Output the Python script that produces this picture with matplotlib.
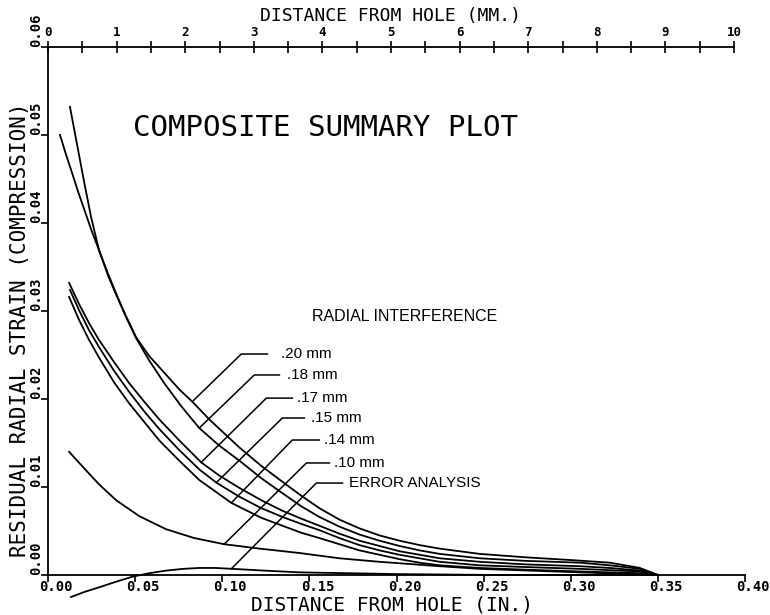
import numpy as np
import matplotlib
matplotlib.use("Agg")
import matplotlib.pyplot as plt
from matplotlib.transforms import ScaledTranslation

# ---------------- data (inches from hole, residual radial strain) ----------------
x_20 = [0.0069, 0.0103, 0.0138, 0.0172, 0.0207, 0.0247, 0.0293, 0.0345, 0.0397, 0.0448,
        0.0506, 0.0580, 0.0667, 0.0753, 0.0828, 0.0925, 0.1011, 0.1098, 0.1224, 0.1345,
        0.1454, 0.1557, 0.1672, 0.1787, 0.1902, 0.2017, 0.2132, 0.2247, 0.2477, 0.2747,
        0.3000, 0.3224, 0.3397, 0.3500]
y_20 = [0.0500, 0.0478, 0.0457, 0.0436, 0.0416, 0.0393, 0.0369, 0.0342, 0.0317, 0.0294,
        0.0270, 0.0249, 0.0230, 0.0211, 0.0197, 0.0177, 0.0161, 0.0145, 0.0124, 0.0106,
        0.0090, 0.0076, 0.0063, 0.0053, 0.0045, 0.0039, 0.0034, 0.0030, 0.0024, 0.0020,
        0.0017, 0.0014, 0.0008, 0.0]

x_18 = [0.0126, 0.0167, 0.0207, 0.0247, 0.0293, 0.0345, 0.0397, 0.0448, 0.0506, 0.0580,
        0.0667, 0.0764, 0.0868, 0.0983, 0.1098, 0.1224, 0.1345, 0.1454, 0.1557, 0.1672,
        0.1787, 0.1902, 0.2017, 0.2132, 0.2247, 0.2477, 0.2747, 0.3052, 0.3224, 0.3397,
        0.3500]
y_18 = [0.0532, 0.0489, 0.0447, 0.0407, 0.0369, 0.0340, 0.0316, 0.0293, 0.0269, 0.0244,
        0.0218, 0.0192, 0.0167, 0.0147, 0.0130, 0.0110, 0.0093, 0.0078, 0.0066, 0.0055,
        0.0046, 0.0039, 0.0033, 0.0028, 0.0024, 0.0019, 0.0016, 0.0014, 0.0011, 0.0007,
        0.0]

x_17 = [0.0121, 0.0178, 0.0236, 0.0293, 0.0379, 0.0466, 0.0552, 0.0638, 0.0753, 0.0879,
        0.0983, 0.1098, 0.1224, 0.1345, 0.1454, 0.1557, 0.1672, 0.1787, 0.1902, 0.2017,
        0.2132, 0.2247, 0.2477, 0.2747, 0.3052, 0.3224, 0.3397, 0.3500]
y_17 = [0.0332, 0.0308, 0.0286, 0.0267, 0.0242, 0.0218, 0.0197, 0.0177, 0.0153, 0.0128,
        0.0113, 0.0099, 0.0085, 0.0073, 0.0064, 0.0056, 0.0047, 0.0039, 0.0033, 0.0027,
        0.0023, 0.0019, 0.0015, 0.0012, 0.0010, 0.0008, 0.0005, 0.0]

x_15 = [0.0126, 0.0178, 0.0236, 0.0293, 0.0379, 0.0466, 0.0552, 0.0638, 0.0753, 0.0868,
        0.0966, 0.1098, 0.1224, 0.1345, 0.1454, 0.1557, 0.1672, 0.1787, 0.1902, 0.2017,
        0.2132, 0.2247, 0.2477, 0.2747, 0.3052, 0.3397, 0.3500]
y_15 = [0.0324, 0.0301, 0.0278, 0.0259, 0.0232, 0.0208, 0.0186, 0.0166, 0.0142, 0.0120,
        0.0105, 0.0089, 0.0076, 0.0066, 0.0058, 0.0051, 0.0042, 0.0034, 0.0028, 0.0023,
        0.0019, 0.0015, 0.0011, 0.0009, 0.0007, 0.0004, 0.0]

x_14 = [0.0121, 0.0178, 0.0236, 0.0293, 0.0379, 0.0466, 0.0552, 0.0638, 0.0753, 0.0868,
        0.1052, 0.1224, 0.1345, 0.1454, 0.1557, 0.1672, 0.1787, 0.1902, 0.2017, 0.2132,
        0.2247, 0.2477, 0.2747, 0.3052, 0.3397, 0.3500]
y_14 = [0.0316, 0.0290, 0.0267, 0.0247, 0.0219, 0.0195, 0.0174, 0.0153, 0.0130, 0.0108,
        0.0082, 0.0065, 0.0056, 0.0048, 0.0042, 0.0035, 0.0028, 0.0023, 0.0018, 0.0014,
        0.0011, 0.0008, 0.0006, 0.0004, 0.0002, 0.0]

x_10 = [0.0121, 0.0167, 0.0218, 0.0293, 0.0391, 0.0523, 0.0678, 0.0839, 0.1011, 0.1213,
        0.1443, 0.1672, 0.1902, 0.2247, 0.2477, 0.2764, 0.3052, 0.3500]
y_10 = [0.0140, 0.0130, 0.0119, 0.0103, 0.0085, 0.0067, 0.0052, 0.0042, 0.0035, 0.0030,
        0.0025, 0.0019, 0.0015, 0.0010, 0.0007, 0.0005, 0.0003, 0.0]

x_err = [0.0132, 0.0213, 0.0293, 0.0385, 0.0483, 0.0580, 0.0678, 0.0776, 0.0868, 0.0960,
         0.1057, 0.1241, 0.1443, 0.1730, 0.2017, 0.2592, 0.3500]
y_err = [-0.0025, -0.0019, -0.0014, -0.0008, -0.0002, 0.0002, 0.0005, 0.0007, 0.0008,
         0.0008, 0.0007, 0.0005, 0.0003, 0.0002, 0.0001, 0.0, 0.0]

x_ticks_in = [0.00, 0.05, 0.10, 0.15, 0.20, 0.25, 0.30, 0.35, 0.40]
x_ticklabels_in = ["0.00", "0.05", "0.10", "0.15", "0.20", "0.25", "0.30", "0.35", "0.40"]
y_ticks = [0.00, 0.01, 0.02, 0.03, 0.04, 0.05, 0.06]
y_ticklabels = ["0.00", "0.01", "0.02", "0.03", "0.04", "0.05", "0.06"]
mm_ticks = [0, 1, 2, 3, 4, 5, 6, 7, 8, 9, 10]
mm_ticklabels = [str(v) for v in mm_ticks]

curve_labels = [".20 mm", ".18 mm", ".17 mm", ".15 mm", ".14 mm", ".10 mm", "ERROR ANALYSIS"]
curves = [(x_20, y_20), (x_18, y_18), (x_17, y_17), (x_15, y_15),
          (x_14, y_14), (x_10, y_10), (x_err, y_err)]

# leader layout: (target x, target y, elbow x, elbow y, end x, text x)
leaders = [
    (0.0828, 0.01970, 0.1109, 0.02511, 0.1259, 0.1339),
    (0.0868, 0.01670, 0.1184, 0.02273, 0.1328, 0.1374),
    (0.0879, 0.01280, 0.1253, 0.02010, 0.1402, 0.1431),
    (0.0966, 0.01050, 0.1345, 0.01784, 0.1471, 0.1511),
    (0.1052, 0.00820, 0.1402, 0.01534, 0.1557, 0.1586),
    (0.1011, 0.00350, 0.1483, 0.01273, 0.1615, 0.1644),
    (0.1052, 0.00070, 0.1540, 0.01045, 0.1690, 0.1730),
]

MONO = "DejaVu Sans Mono"
SANS = "Liberation Sans"

fig = plt.figure(figsize=(7.7, 6.15), dpi=100)
ax = fig.add_axes([48 / 770, 1 - 575 / 615, (745 - 48) / 770, (575 - 47) / 615])
ax.set_xlim(0, 0.40)
ax.set_ylim(0, 0.06)

for xs, ys in curves:
    ax.plot(xs, ys, color="black", lw=1.3, clip_on=False, solid_joinstyle="round")

for (tx, ty, ex, ey, hx, txt_x), lab in zip(leaders, curve_labels):
    ax.plot([tx, ex, hx], [ty, ey, ey], color="black", lw=1.1, clip_on=False)
    ax.text(txt_x, ey, lab, family=SANS, fontsize=11, va="center", ha="left")

ax.text(0.1517, 0.02943, "RADIAL INTERFERENCE", family=SANS, fontsize=11.5,
        va="center", ha="left")
ax.text(0.0488, 0.0508, "COMPOSITE SUMMARY PLOT", family=MONO, fontsize=21,
        va="center", ha="left")

for s in ["top", "right"]:
    ax.spines[s].set_visible(False)
for s in ["left", "bottom"]:
    ax.spines[s].set_linewidth(1.3)

ax.set_xticks(x_ticks_in)
ax.set_xticklabels(x_ticklabels_in, family=MONO, fontweight="bold", fontsize=10)
ax.set_yticks(y_ticks)
ax.set_yticklabels(y_ticklabels, family=MONO, fontweight="bold", fontsize=10,
                   rotation=90, va="bottom", ha="right")
ax.tick_params(axis="x", direction="out", length=5, width=1.2, pad=-1.5)
ax.tick_params(axis="y", direction="out", length=5, width=1.2, pad=-1.5)

off = ScaledTranslation(8 / 100, 0, fig.dpi_scale_trans)
for lab in ax.get_xticklabels():
    lab.set_transform(lab.get_transform() + off)

sec = ax.secondary_xaxis("top", functions=(lambda v: v * 25.4, lambda v: v / 25.4))
sec.set_xticks(mm_ticks)
sec.set_xticklabels(mm_ticklabels, family=MONO, fontweight="bold", fontsize=9)
sec.set_xticks([v + 0.5 for v in mm_ticks[:-1]], minor=True)
sec.tick_params(axis="x", which="both", direction="inout", length=8, width=1.2, pad=2.0)
sec.spines["top"].set_bounds(0, 10)
sec.spines["top"].set_linewidth(1.3)

fig.text(391 / 770, 1 - 21 / 615, "DISTANCE FROM HOLE (MM.)", family=MONO, fontsize=13,
         ha="center", va="baseline")
fig.text(392 / 770, 1 - 605 / 615, "DISTANCE FROM HOLE (IN.)", family=MONO, fontsize=14,
         ha="center", va="center")
fig.text(20 / 770, 1 - 330 / 615, "RESIDUAL RADIAL STRAIN (COMPRESSION)", family=MONO,
         fontsize=15, rotation=90, ha="center", va="center")

fig.savefig("out.png", dpi=100)
